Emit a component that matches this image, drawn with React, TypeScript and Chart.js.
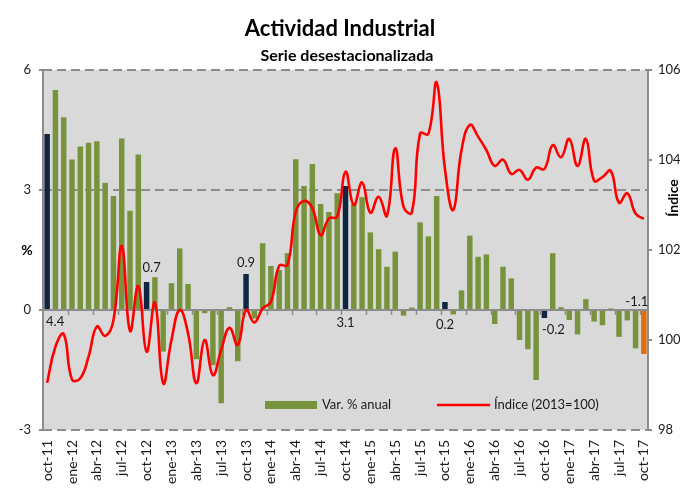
import React, { useEffect, useRef } from 'react';
import { Chart, registerables } from 'chart.js';
Chart.register(...registerables);

const categories = [
  'oct-11','nov-11','dic-11',
  'ene-12','feb-12','mar-12','abr-12','may-12','jun-12','jul-12','ago-12','sep-12','oct-12','nov-12','dic-12',
  'ene-13','feb-13','mar-13','abr-13','may-13','jun-13','jul-13','ago-13','sep-13','oct-13','nov-13','dic-13',
  'ene-14','feb-14','mar-14','abr-14','may-14','jun-14','jul-14','ago-14','sep-14','oct-14','nov-14','dic-14',
  'ene-15','feb-15','mar-15','abr-15','may-15','jun-15','jul-15','ago-15','sep-15','oct-15','nov-15','dic-15',
  'ene-16','feb-16','mar-16','abr-16','may-16','jun-16','jul-16','ago-16','sep-16','oct-16','nov-16','dic-16',
  'ene-17','feb-17','mar-17','abr-17','may-17','jun-17','jul-17','ago-17','sep-17','oct-17',
];

const varAnual = [
  4.4, 5.5, 4.82,
  3.76, 4.09, 4.18, 4.22, 3.18, 2.85, 4.29, 2.48, 3.89, 0.7, 0.82, -1.04,
  0.67, 1.54, 0.65, -1.23, -0.08, -1.38, -2.33, 0.07, -1.28, 0.9, -0.21, 1.67,
  1.1, 1.0, 1.42, 3.77, 3.1, 3.65, 2.65, 2.45, 2.92, 3.1, 2.65, 2.82,
  1.94, 1.52, 1.08, 1.46, -0.14, 0.06, 2.19, 1.84, 2.85, 0.2, -0.11, 0.49,
  1.86, 1.33, 1.39, -0.35, 1.08, 0.79, -0.75, -0.98, -1.75, -0.2, 1.42, 0.07,
  -0.25, -0.61, 0.27, -0.29, -0.38, 0.04, -0.67, -0.26, -0.96, -1.1,
];

const indice = [
  99.05, 99.85, 100.13,
  99.12, 99.15, 99.63, 100.3, 100.09, 100.44, 102.09, 100.2, 101.2, 99.74, 100.83, 99.04,
  100.0, 100.67, 100.15, 99.04, 100.0, 99.22, 99.78, 100.27, 99.89, 100.67, 100.39, 100.7,
  100.85, 101.65, 101.67, 102.85, 103.09, 102.93, 102.33, 102.7, 102.74, 103.74, 103.0, 103.5,
  102.83, 103.18, 102.76, 104.26, 102.96, 102.83, 104.59, 104.58, 105.72, 103.8, 102.89, 104.22,
  104.78, 104.52, 104.22, 103.87, 104.01, 103.69, 103.78, 103.56, 103.83, 103.8, 104.33, 104.06,
  104.47, 103.87, 104.47, 103.54, 103.62, 103.76, 103.05, 103.26, 102.81, 102.69,
];

const leftTicks = [-3, 0, 3, 6];
const rightTicks = [98, 100, 102, 104, 106];
// months highlighted (October of each year) and the latest month
const highlightIdx = [0, 12, 24, 36, 48, 60];
const latestIdx = 72;
const labelIdx = [0, 12, 24, 36, 48, 60, 72];

const GREEN = '#77933c';
const NAVY = '#10253f';
const ORANGE = '#e46c0a';
const RED = '#ff0000';
const FONT = 'Lato, "Open Sans", sans-serif';

// label placement styles: [dx, dy, mode]
const labelStyle: Record<number, [number, number, string]> = {
  0: [8, 12, 'zero'],
  12: [5, -14, 'end'],
  24: [0, -11, 'end'],
  36: [0, 13, 'zero'],
  48: [0, 15, 'zero'],
  60: [9, 12, 'end'],
  72: [-7, -8, 'zero'],
};

const customPlugin = {
  id: 'custom',
  beforeDraw(chart: any) {
    const { ctx, chartArea: a } = chart;
    ctx.save();
    ctx.fillStyle = '#ffffff';
    ctx.fillRect(0, 0, chart.width, chart.height);
    ctx.fillStyle = '#d9d9d9';
    ctx.fillRect(a.left, a.top, a.right - a.left, a.bottom - a.top);
    const y = chart.scales.y;
    ctx.strokeStyle = '#8c8c8c';
    ctx.lineWidth = 2;
    ctx.setLineDash([9, 5]);
    [6, 3, -3].forEach((v) => {
      const py = Math.round(y.getPixelForValue(v));
      ctx.beginPath();
      ctx.moveTo(a.left, py);
      ctx.lineTo(a.right, py);
      ctx.stroke();
    });
    ctx.restore();
  },
  afterDatasetDraw(chart: any, args: any) {
    if (args.index !== 1) return;
    const { ctx, chartArea: a } = chart;
    const y = chart.scales.y;
    const py = Math.round(y.getPixelForValue(0));
    ctx.save();
    ctx.strokeStyle = '#8c8c8c';
    ctx.lineWidth = 2;
    ctx.beginPath();
    ctx.moveTo(a.left, py);
    ctx.lineTo(a.right, py);
    ctx.stroke();
    const w = (a.right - a.left) / categories.length;
    ctx.lineWidth = 1.5;
    for (let k = 3; k < categories.length; k += 3) {
      const px = Math.round(a.left + k * w) + 0.5;
      ctx.beginPath();
      ctx.moveTo(px, py);
      ctx.lineTo(px, py + 5);
      ctx.stroke();
    }
    ctx.restore();
  },
  afterDraw(chart: any) {
    const { ctx, chartArea: a } = chart;
    const x = chart.scales.x;
    const y = chart.scales.y;
    ctx.save();
    ctx.fillStyle = '#000';
    ctx.textAlign = 'center';
    ctx.textBaseline = 'middle';
    ctx.font = `bold 22px ${FONT}`;
    ctx.fillText('Actividad Industrial', 340, 29);
    ctx.font = `bold 16px ${FONT}`;
    ctx.fillText('Serie desestacionalizada', 347, 56);
    ctx.font = `bold 14px ${FONT}`;
    ctx.fillText('%', 27, (a.top + a.bottom) / 2);
    ctx.save();
    ctx.translate(673, 198);
    ctx.rotate(-Math.PI / 2);
    ctx.fillText('Índice', 0, 0);
    ctx.restore();
    ctx.font = `13px ${FONT}`;
    ctx.fillStyle = '#1a1a1a';
    labelIdx.forEach((i) => {
      const [dx, dy, mode] = labelStyle[i];
      const v = varAnual[i];
      const px = x.getPixelForValue(i) + dx;
      const py = (mode === 'zero' ? y.getPixelForValue(0) : y.getPixelForValue(v)) + dy;
      ctx.fillText(v.toFixed(1), px, py);
    });
    ctx.fillStyle = GREEN;
    ctx.fillRect(265, 401, 52, 8);
    ctx.fillStyle = '#1a1a1a';
    ctx.textAlign = 'left';
    ctx.font = `13px ${FONT}`;
    ctx.fillText('Var. % anual', 322, 405);
    ctx.strokeStyle = RED;
    ctx.lineWidth = 2.5;
    ctx.beginPath();
    ctx.moveTo(437, 405);
    ctx.lineTo(490, 405);
    ctx.stroke();
    ctx.fillText('Índice (2013=100)', 494, 405);
    ctx.restore();
  },
};

export default function App() {
  const ref = useRef<HTMLCanvasElement>(null);
  useEffect(() => {
    if (!ref.current) return;
    const barColors = varAnual.map((_, i) =>
      i === latestIdx ? ORANGE : highlightIdx.includes(i) ? NAVY : GREEN
    );
    const chart = new Chart(ref.current, {
      type: 'bar',
      data: {
        labels: categories,
        datasets: [
          {
            type: 'line',
            label: 'Índice (2013=100)',
            data: indice,
            yAxisID: 'y1',
            borderColor: RED,
            borderWidth: 2.6,
            pointRadius: 0,
            tension: 0.45,
            fill: false,
            order: 1,
          } as any,
          {
            type: 'bar',
            label: 'Var. % anual',
            data: varAnual,
            yAxisID: 'y',
            backgroundColor: barColors,
            borderWidth: 0,
            categoryPercentage: 1,
            barPercentage: 0.66,
            order: 2,
          },
        ],
      },
      options: {
        responsive: false,
        animation: false,
        devicePixelRatio: 1,
        layout: { padding: { top: 70, left: 0, right: 0, bottom: 0 } },
        plugins: { legend: { display: false }, tooltip: { enabled: false }, title: { display: false } },
        scales: {
          x: {
            type: 'category',
            grid: { display: false, drawTicks: false },
            border: { display: false },
            ticks: {
              autoSkip: false,
              maxRotation: 90,
              minRotation: 90,
              padding: 10,
              color: '#1a1a1a',
              font: { family: FONT, size: 14 },
              callback: (_v: any, i: number) => (i % 3 === 0 ? categories[i] : ''),
            },
            afterFit: (s: any) => { s.height = 61; },
          },
          y: {
            position: 'left',
            min: -3,
            max: 6,
            afterBuildTicks: (s: any) => { s.ticks = leftTicks.map((v) => ({ value: v })); },
            grid: { display: true, drawOnChartArea: false, drawTicks: true, tickLength: 4, color: '#8c8c8c', lineWidth: 2 },
            border: { display: true, color: '#8c8c8c', width: 2 },
            ticks: { padding: 8, color: '#1a1a1a', font: { family: FONT, size: 13 } },
            afterFit: (s: any) => { s.width = 43; },
          },
          y1: {
            position: 'right',
            min: 98,
            max: 106,
            afterBuildTicks: (s: any) => { s.ticks = rightTicks.map((v) => ({ value: v })); },
            grid: { display: true, drawOnChartArea: false, drawTicks: true, tickLength: 4, color: '#8c8c8c', lineWidth: 2 },
            border: { display: true, color: '#8c8c8c', width: 2 },
            ticks: { padding: 6, color: '#1a1a1a', font: { family: FONT, size: 13 } },
            afterFit: (s: any) => { s.width = 32; },
          },
        },
      },
      plugins: [customPlugin],
    });
    return () => chart.destroy();
  }, []);
  return (
    <div style={{ position: 'fixed', left: 0, top: 0, width: 680, height: 491, background: '#fff' }}>
      <canvas ref={ref} width={680} height={491} style={{ display: 'block' }} />
    </div>
  );
}
